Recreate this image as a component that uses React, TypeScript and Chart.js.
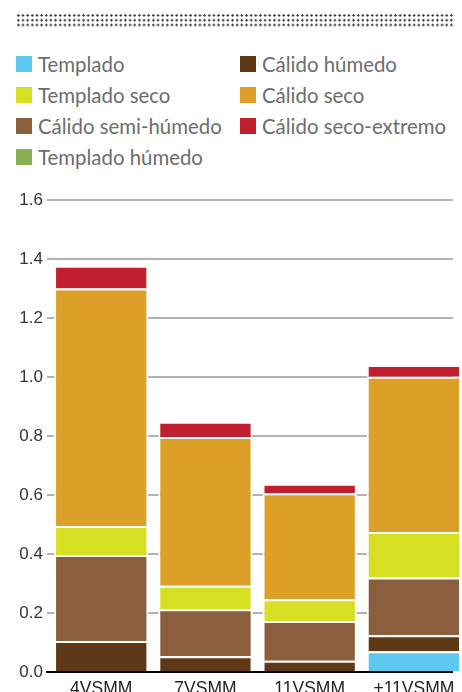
import React, { useEffect, useRef } from "react";
import { Chart, registerables } from "chart.js";

Chart.register(...registerables);

const categories = ["4VSMM", "7VSMM", "11VSMM", "+11VSMM"];
const categoryPositions = [0, 1, 2, 3];

const seriesNames = [
  "Templado",
  "Cálido húmedo",
  "Cálido semi-húmedo",
  "Templado seco",
  "Cálido seco",
  "Cálido seco-extremo",
  "Templado húmedo",
];
const seriesColors = [
  "#5dc9f1",
  "#5f3915",
  "#8b5f3d",
  "#d6df22",
  "#dc9f28",
  "#c11f2f",
  "#89b152",
];

const templado = [0, 0, 0, 0.07];
const calidoHumedo = [0.105, 0.053, 0.038, 0.055];
const calidoSemiHumedo = [0.292, 0.16, 0.135, 0.195];
const templadoSeco = [0.098, 0.079, 0.074, 0.155];
const calidoSeco = [0.805, 0.505, 0.358, 0.526];
const calidoSecoExtremo = [0.077, 0.051, 0.033, 0.04];
const templadoHumedo = [0, 0, 0, 0];

const seriesValues = [
  templado,
  calidoHumedo,
  calidoSemiHumedo,
  templadoSeco,
  calidoSeco,
  calidoSecoExtremo,
  templadoHumedo,
];

const yTicks = [0, 0.2, 0.4, 0.6, 0.8, 1.0, 1.2, 1.4, 1.6];

// legend order (two columns, column-major)
const legendColumns = [
  ["Templado", "Templado seco", "Cálido semi-húmedo", "Templado húmedo"],
  ["Cálido húmedo", "Cálido seco", "Cálido seco-extremo"],
];

export default function App() {
  const canvasRef = useRef<HTMLCanvasElement | null>(null);

  useEffect(() => {
    if (!canvasRef.current) return;
    const chart = new Chart(canvasRef.current, {
      type: "bar",
      data: {
        datasets: seriesNames.map((name, i) => ({
          label: name,
          data: seriesValues[i].map((v, j) => ({ x: categoryPositions[j], y: v })),
          backgroundColor: seriesColors[i],
          borderColor: "#ffffff",
          borderWidth: 2,
          borderSkipped: "start" as const,
          barPercentage: 0.905,
          categoryPercentage: 1,
          clip: false as any,
        })),
      },
      options: {
        animation: false,
        responsive: false,
        layout: { padding: { top: 20, right: 7, left: 0, bottom: 3 } },
        plugins: {
          legend: { display: false },
          tooltip: { enabled: false },
        },
        scales: {
          x: {
            type: "linear",
            stacked: true,
            offset: false,
            min: -0.5203,
            max: 3.375,
            grid: { display: false, drawTicks: false, offset: false },
            border: { display: true, color: "#000000", width: 2 },
            ticks: {
              stepSize: 1,
              includeBounds: false,
              autoSkip: false,
              maxRotation: 0,
              padding: 7,
              color: "#222222",
              font: { family: "Liberation Sans", size: 17.5 },
              callback: (v: any) => categories[categoryPositions.indexOf(Number(v))] ?? "",
            },
          },
          y: {
            type: "linear",
            stacked: true,
            min: 0,
            max: 1.6,
            afterFit: (scale: any) => {
              scale.width = 47;
            },
            afterBuildTicks: (scale: any) => {
              scale.ticks = yTicks.map((v) => ({ value: v }));
            },
            grid: { color: "#b3b3b3", lineWidth: 2, drawTicks: false },
            border: { display: false },
            ticks: {
              padding: 4,
              color: "#333333",
              font: { family: "Liberation Sans", size: 17 },
              callback: (v: any) => Number(v).toFixed(1),
            },
          },
        },
      },
    });
    return () => chart.destroy();
  }, []);

  return (
    <div
      style={{
        position: "fixed",
        left: 0,
        top: 0,
        width: 462,
        height: 692,
        overflow: "hidden",
        background: "#ffffff",
      }}
    >
      <div
        style={{
          position: "absolute",
          left: 16,
          top: 13.3,
          width: 439,
          height: 14.4,
          backgroundImage: "radial-gradient(circle, #333 0.9px, rgba(0,0,0,0) 1.4px)",
          backgroundSize: "4.67px 4.8px",
        }}
      />
      {legendColumns.map((col, ci) => (
        <div
          key={ci}
          style={{ position: "absolute", left: ci === 0 ? 16 : 240, top: 49 }}
        >
          {col.map((name) => (
            <div
              key={name}
              style={{
                display: "flex",
                alignItems: "center",
                height: 30.8,
                fontFamily: "Lato",
                fontSize: 20.4,
                color: "#6d6d6d",
                whiteSpace: "nowrap",
              }}
            >
              <span
                style={{
                  display: "inline-block",
                  width: 16,
                  height: 16,
                  background: seriesColors[seriesNames.indexOf(name)],
                  marginRight: 6,
                }}
              />
              {name}
            </div>
          ))}
        </div>
      ))}
      <div style={{ position: "absolute", left: 0, top: 180, width: 462, height: 530 }}>
        <canvas ref={canvasRef} width={462} height={530} style={{ width: 462, height: 530 }} />
      </div>
    </div>
  );
}
